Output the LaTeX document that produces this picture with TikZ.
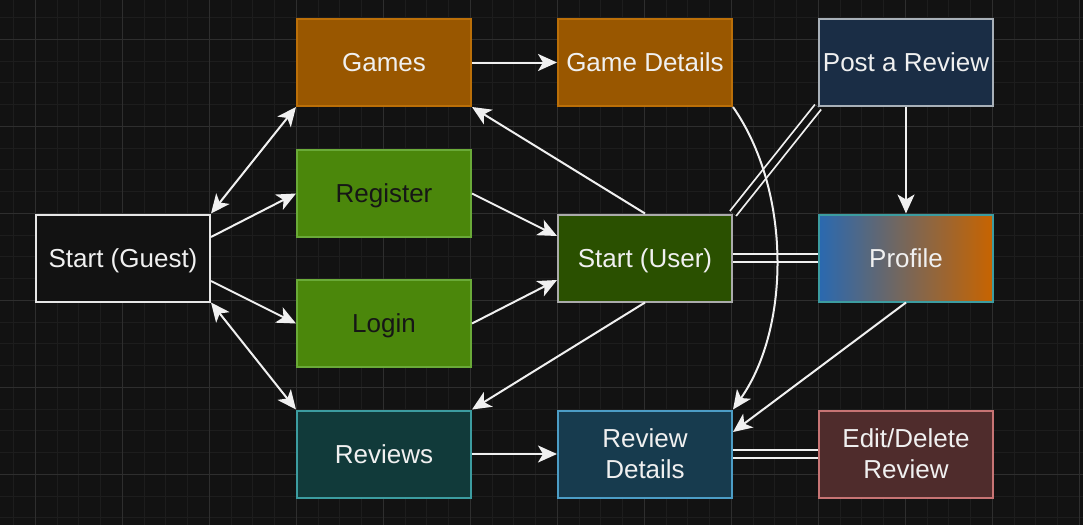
\documentclass[tikz,border=0pt]{standalone}
\usepackage{fontspec}
\setmainfont{Liberation Sans}
\usetikzlibrary{arrows.meta,calc}
\definecolor{bg}{HTML}{121212}
\definecolor{gridminor}{HTML}{1D1D1D}
\definecolor{gridmajor}{HTML}{2E2E2E}
\definecolor{fg}{HTML}{F0F0F0}
\definecolor{darktext}{HTML}{161616}
\definecolor{orangefill}{HTML}{995700}
\definecolor{orangeline}{HTML}{BB6F08}
\definecolor{greenfill}{HTML}{4B870B}
\definecolor{greenline}{HTML}{6AAA38}
\definecolor{dgreenfill}{HTML}{2A5000}
\definecolor{grayline}{HTML}{ABABAB}
\definecolor{navyfill}{HTML}{1A2D45}
\definecolor{navyline}{HTML}{A8B0B8}
\definecolor{tealfill}{HTML}{113A3A}
\definecolor{tealline}{HTML}{3C9CA0}
\definecolor{bluefill}{HTML}{173B4E}
\definecolor{blueline}{HTML}{4C9DC6}
\definecolor{redfill}{HTML}{4F2C2C}
\definecolor{redline}{HTML}{C77474}
\definecolor{profleft}{HTML}{2A69B0}
\definecolor{profright}{HTML}{C86400}
\definecolor{guestline}{HTML}{E6E6E6}
\begin{document}
\begin{tikzpicture}[x=1pt,y=-1pt,
  box/.style={rectangle, minimum width=174pt, minimum height=87pt, line width=2pt,
    text=fg, font=\fontsize{26}{31}\selectfont, align=center, inner sep=0pt},
  oneline/.style={text height=18.6pt, text depth=0pt},
  conn/.style={draw=fg, line width=2pt},
  arr/.style={conn, -{Stealth[length=19pt,width=17pt,inset=5pt]}},
  barr/.style={conn, {Stealth[length=19pt,width=17pt,inset=5pt]}-{Stealth[length=19pt,width=17pt,inset=5pt]}},
  linkedge/.style={draw=fg, line width=1.8pt, double=bg, double distance=6pt}
]
\fill[bg] (0,0) rectangle (1083,525);
\useasboundingbox (0,0) rectangle (1083,525);
% grid
\foreach \k in {0,...,49} { \draw[gridminor, line width=1pt] (13.5+21.75*\k,0) -- (13.5+21.75*\k,525); }
\foreach \k in {0,...,23} { \draw[gridminor, line width=1pt] (0,17.5+21.75*\k) -- (1083,17.5+21.75*\k); }
\foreach \k in {0,...,12} { \draw[gridmajor, line width=1pt] (35.5+87*\k,0) -- (35.5+87*\k,525); }
\foreach \k in {0,...,5} { \draw[gridmajor, line width=1pt] (0,39.5+87*\k) -- (1083,39.5+87*\k); }

% nodes
\node[box, oneline, fill=bg, draw=guestline] (sg) at (123,258) {Start (Guest)};
\node[box, oneline, fill=orangefill, draw=orangeline] (games) at (384,62.5) {Games};
\node[box, oneline, fill=greenfill, draw=greenline, text=darktext] (reg) at (384,193.5) {Register};
\node[box, oneline, fill=greenfill, draw=greenline, text=darktext] (login) at (384,323.5) {Login};
\node[box, oneline, fill=tealfill, draw=tealline] (rev) at (384,454) {Reviews};
\node[box, oneline, fill=orangefill, draw=orangeline] (gd) at (645,62.5) {Game Details};
\node[box, oneline, fill=dgreenfill, draw=grayline] (su) at (645,258) {Start (User)};
\node[box, fill=bluefill, draw=blueline] (rd) at (645,454) {\rule{0pt}{0pt}\raisebox{-2pt}{Review}\\\raisebox{-2pt}{Details}};
\node[box, oneline, fill=navyfill, draw=navyline] (par) at (906,62.5) {Post a Review};
\node[box, oneline, left color=profleft, right color=profright, draw=tealline] (prof) at (906,258) {Profile};
\node[box, fill=redfill, draw=redline] (ed) at (906,454) {\raisebox{-2pt}{Edit/Delete}\\\raisebox{-2pt}{Review}};

% links (double lines)
\draw[linkedge] (su.north east) -- (par.south west);
\draw[linkedge] (su.east) -- (prof.west);
\draw[linkedge] (rd.east) -- (ed.west);

% arrows
\draw[barr] (sg.north east) -- (games.south west);
\draw[arr] ($(sg.east)+(0,-21)$) -- (reg.west);
\draw[arr] ($(sg.east)+(0,23)$) -- (login.west);
\draw[barr] (sg.south east) -- (rev.north west);
\draw[arr] (games.east) -- (gd.west);
\draw[arr] (reg.east) -- ($(su.west)+(0,-22)$);
\draw[arr] (login.east) -- ($(su.west)+(0,22)$);
\draw[arr] (su.north) -- (games.south east);
\draw[arr] (su.south) -- (rev.north east);
\draw[arr] (rev.east) -- (rd.west);
\draw[arr] (par.south) -- (prof.north);
\draw[arr] (prof.south) -- ($(rd.east)+(0,-22)$);
\draw[arr] (gd.south east) .. controls (791,190) and (791,327) .. (rd.north east);
\end{tikzpicture}
\end{document}
